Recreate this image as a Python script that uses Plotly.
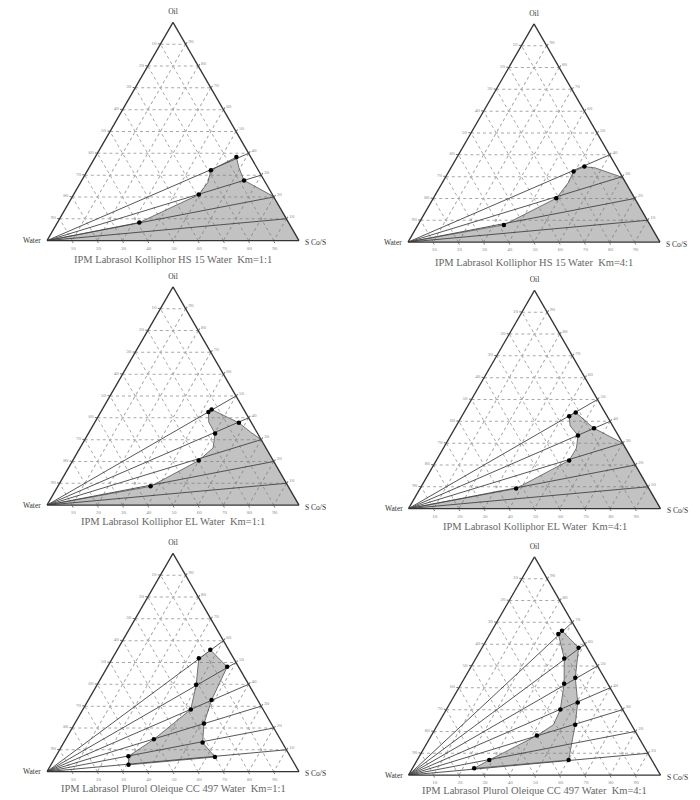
import plotly.graph_objects as go

# ---------------- data ----------------
tick_vals = [10, 20, 30, 40, 50, 60, 70, 80, 90]
tick_text = ["90", "80", "70", "60", "50", "40", "30", "20", "10"]

captions = [
    "IPM Labrasol Kolliphor HS 15 Water  Km=1:1",
    "IPM Labrasol Kolliphor HS 15 Water  Km=4:1",
    "IPM Labrasol Kolliphor EL Water  Km=1:1",
    "IPM Labrasol Kolliphor EL Water  Km=4:1",
    "IPM Labrasol Plurol Oleique CC 497 Water  Km=1:1",
    "IPM Labrasol Plurol Oleique CC 497 Water  Km=4:1",
]
vertex_names = ["Oil", "Water", "S Co/S"]

# oil share (%) of the oil : S Co/S dilution lines
p1_lines = [10, 20, 30, 40]
p2_lines = [10, 20, 30, 40]
p3_lines = [10, 20, 30, 40, 50]
p4_lines = [10, 20, 30, 40, 50]
p5_lines = [10, 20, 30, 40, 50, 60]
p6_lines = [10, 20, 30, 40, 50, 60, 70]

# region boundaries (oil, water, S Co/S)
p1_reg_oil = [0, 8.3, 21.1, 26.6, 32.3, 38.3, 33.5, 27.6, 20.2, 0]
p1_reg_wat = [100, 59.2, 29.2, 22.9, 18.8, 5.7, 7.1, 8.0, 0, 0]
p1_reg_sco = [0, 32.5, 49.7, 50.5, 48.9, 56.0, 59.4, 64.4, 79.8, 100]

p2_reg_oil = [0, 7.9, 20.1, 27.2, 32.4, 34.6, 34.0, 29.6, 0]
p2_reg_wat = [100, 58.0, 31.1, 22.8, 18.1, 12.7, 8.7, 0, 0]
p2_reg_sco = [0, 34.1, 48.8, 50.0, 49.5, 52.7, 57.3, 70.4, 100]

p3_reg_oil = [0, 8.6, 20.4, 26.2, 32.8, 38.0, 42.7, 43.8, 40.3, 37.7, 33.3, 30.0, 0]
p3_reg_wat = [100, 54.6, 29.6, 21.0, 16.9, 16.8, 14.6, 12.8, 8.3, 5.0, 2.4, 0, 0]
p3_reg_sco = [0, 36.8, 50.0, 52.8, 50.3, 45.2, 42.7, 43.4, 51.4, 57.3, 64.3, 70.0, 100]

p4_reg_oil = [0, 9.2, 22.1, 27.7, 33.5, 37.9, 42.3, 44.1, 38.7, 36.8, 30.0, 0]
p4_reg_wat = [100, 52.7, 25.2, 19.5, 16.0, 16.9, 15.1, 11.6, 9.0, 8.0, 0, 0]
p4_reg_sco = [0, 38.1, 52.7, 52.8, 50.5, 45.2, 42.6, 44.3, 52.3, 55.2, 70.0, 100]

p5_reg_oil = [55.8, 48.0, 32.8, 22.0, 13.3, 6.7, 3.1, 7.0, 14.8, 28.5, 39.8, 51.9]
p5_reg_wat = [7.3, 4.5, 18.3, 26.7, 31.6, 30.0, 66.1, 64.2, 50.2, 28.7, 20.9, 13.8]
p5_reg_sco = [36.9, 47.5, 48.9, 51.3, 55.1, 63.3, 30.8, 28.8, 35.0, 42.8, 39.3, 34.3]

p6_reg_oil = [66.2, 58.4, 44.6, 33.3, 23.1, 6.9, 3.1, 6.9, 18.1, 23.1, 30.1, 41.9, 53.4, 64.7]
p6_reg_wat = [6.0, 3.3, 11.5, 16.2, 22.3, 33.0, 72.4, 64.5, 40.0, 30.9, 24.7, 17.3, 11.5, 8.2]
p6_reg_sco = [27.8, 38.3, 43.9, 50.5, 54.6, 60.1, 24.5, 28.6, 41.9, 46.0, 45.2, 40.8, 35.1, 27.1]

# measured boundary points (oil, water, S Co/S)
p1_dot_oil = [38.3, 32.3, 27.6, 21.1, 8.3]
p1_dot_wat = [5.7, 18.8, 8.0, 29.2, 59.2]
p1_dot_sco = [56.0, 48.9, 64.4, 49.7, 32.5]

p2_dot_oil = [34.6, 32.4, 20.1, 7.9]
p2_dot_wat = [12.7, 18.1, 31.1, 58.0]
p2_dot_sco = [52.7, 49.5, 48.8, 34.1]

p3_dot_oil = [43.8, 42.7, 37.7, 32.8, 20.4, 8.6]
p3_dot_wat = [12.8, 14.6, 5.0, 16.9, 29.6, 54.6]
p3_dot_sco = [43.4, 42.7, 57.3, 50.3, 50.0, 36.8]

p4_dot_oil = [44.1, 42.3, 36.8, 33.5, 22.1, 9.2]
p4_dot_wat = [11.6, 15.1, 8.0, 16.0, 25.2, 52.7]
p4_dot_sco = [44.3, 42.6, 55.2, 50.5, 52.7, 38.1]

p5_dot_oil = [55.8, 51.9, 48.0, 39.8, 32.8, 28.5, 22.0, 14.8, 13.3, 7.0, 6.7, 3.1]
p5_dot_wat = [7.3, 13.8, 4.5, 20.9, 18.3, 28.7, 26.7, 50.2, 31.6, 64.2, 30.0, 66.1]
p5_dot_sco = [36.9, 34.3, 47.5, 39.3, 48.9, 42.8, 51.3, 35.0, 55.1, 28.8, 63.3, 30.8]

p6_dot_oil = [66.2, 64.7, 58.4, 53.4, 44.6, 41.9, 33.3, 30.1, 23.1, 18.1, 6.9, 6.9, 3.1]
p6_dot_wat = [6.0, 8.2, 3.3, 11.5, 11.5, 17.3, 16.2, 24.7, 22.3, 40.0, 33.0, 64.5, 72.4]
p6_dot_sco = [27.8, 27.1, 38.3, 35.1, 43.9, 40.8, 50.5, 45.2, 54.6, 41.9, 60.1, 28.6, 24.5]

panels = [
    (p1_lines, (p1_reg_oil, p1_reg_wat, p1_reg_sco), (p1_dot_oil, p1_dot_wat, p1_dot_sco)),
    (p2_lines, (p2_reg_oil, p2_reg_wat, p2_reg_sco), (p2_dot_oil, p2_dot_wat, p2_dot_sco)),
    (p3_lines, (p3_reg_oil, p3_reg_wat, p3_reg_sco), (p3_dot_oil, p3_dot_wat, p3_dot_sco)),
    (p4_lines, (p4_reg_oil, p4_reg_wat, p4_reg_sco), (p4_dot_oil, p4_dot_wat, p4_dot_sco)),
    (p5_lines, (p5_reg_oil, p5_reg_wat, p5_reg_sco), (p5_dot_oil, p5_dot_wat, p5_dot_sco)),
    (p6_lines, (p6_reg_oil, p6_reg_wat, p6_reg_sco), (p6_dot_oil, p6_dot_wat, p6_dot_sco)),
]

# ---------------- layout geometry (page pixels) ----------------
PAGE_OFF = 8                 # default body margin of the html page
W_PX, H_PX = 692, 792        # figure size so that it fits the 700x800 window
SIDE = 252
TRI_H = SIDE * 3 ** 0.5 / 2
centers = [(173, 131.5), (534, 133), (173, 396), (534.5, 399.5), (173, 662.5), (534.5, 666)]
caption_y = [260, 262, 521, 526, 788, 790]


def px(x):
    return (x - PAGE_OFF) / W_PX


def py(y):
    return 1 - (y - PAGE_OFF) / H_PX


fig = go.Figure()
serif = "Liberation Serif"
title_font = dict(size=7.5, family=serif, color="#333")

for i, (lines, reg, dots) in enumerate(panels):
    sp = "ternary" if i == 0 else f"ternary{i + 1}"
    # shaded region
    fig.add_trace(go.Scatterternary(
        a=reg[0], b=reg[1], c=reg[2], mode="lines", fill="toself",
        fillcolor="rgba(120,120,120,0.45)", line=dict(color="#555", width=0.8),
        subplot=sp, showlegend=False, hoverinfo="skip"))
    # dilution lines from the water vertex
    for r in lines:
        fig.add_trace(go.Scatterternary(
            a=[0, r], b=[100, 0], c=[0, 100 - r], mode="lines",
            line=dict(color="#444", width=0.9), subplot=sp,
            showlegend=False, hoverinfo="skip"))
    # points
    fig.add_trace(go.Scatterternary(
        a=dots[0], b=dots[1], c=dots[2], mode="markers",
        marker=dict(color="black", size=4.5), subplot=sp, showlegend=False))

    cx, cy = centers[i]
    axis_common = dict(
        tickmode="array", tickvals=tick_vals, ticktext=tick_text,
        tickfont=dict(size=5, color="#888", family=serif),
        ticks="outside", ticklen=2, tickcolor="#777",
        showgrid=True, gridcolor="#a8a8a8", gridwidth=0.6, griddash="dot",
        showline=True, linecolor="#333", linewidth=1.3, min=0,
    )
    fig.layout[sp] = dict(
        domain=dict(x=[px(cx - SIDE / 2), px(cx + SIDE / 2)],
                    y=[py(cy + TRI_H / 2), py(cy - TRI_H / 2)]),
        sum=100, bgcolor="white",
        aaxis=dict(title=dict(text=vertex_names[0], font=title_font), **axis_common),
        baxis=dict(title=dict(text=""), **axis_common),
        caxis=dict(title=dict(text=""), **axis_common),
    )
    base_y = cy + TRI_H / 2
    fig.add_annotation(x=px(cx - SIDE / 2 - 4), y=py(base_y), xref="paper", yref="paper",
                       text=vertex_names[1], showarrow=False, xanchor="right",
                       yanchor="middle", font=title_font)
    fig.add_annotation(x=px(cx + SIDE / 2 + 4), y=py(base_y + 2), xref="paper", yref="paper",
                       text=vertex_names[2], showarrow=False, xanchor="left",
                       yanchor="middle", font=title_font)
    fig.add_annotation(
        x=px(cx), y=py(caption_y[i]), xref="paper", yref="paper",
        text=captions[i], showarrow=False, xanchor="center", yanchor="middle",
        font=dict(size=10.5, family=serif, color="#666"))

fig.update_layout(width=W_PX, height=H_PX, margin=dict(l=0, r=0, t=0, b=0),
                  paper_bgcolor="white", plot_bgcolor="white")
fig.write_html("out.html")
